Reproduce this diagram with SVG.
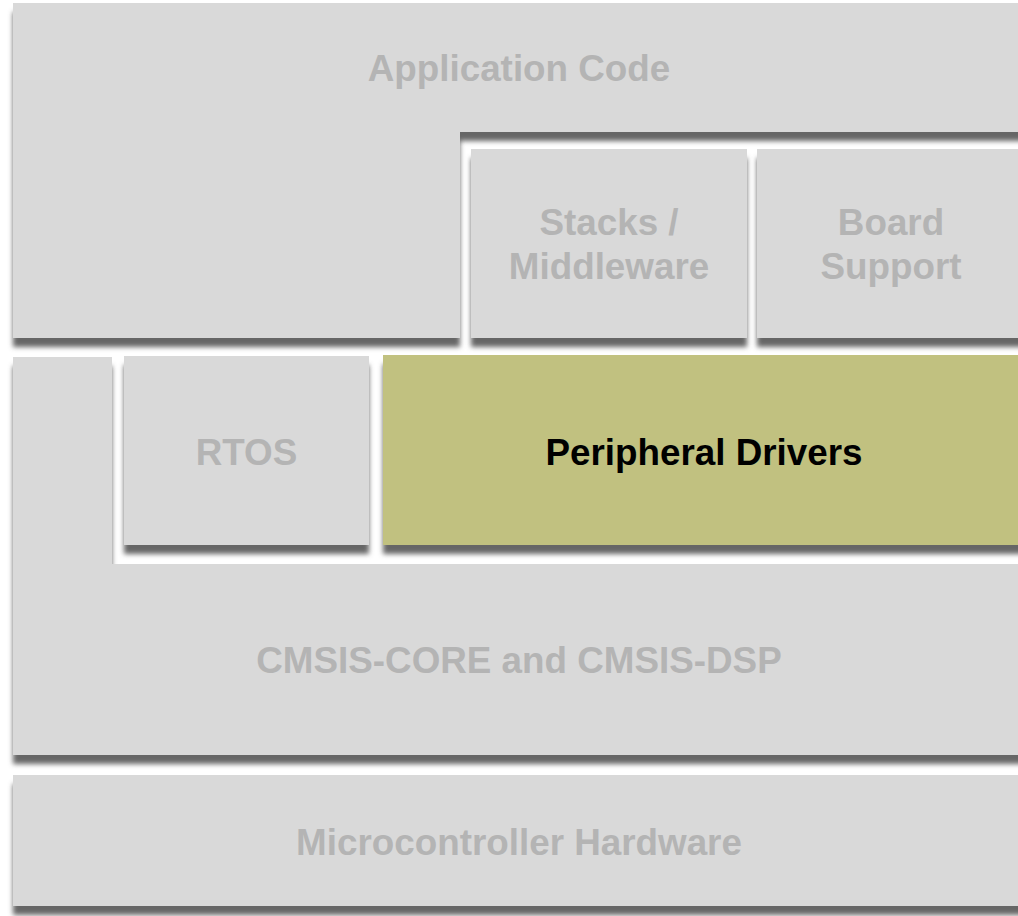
<svg xmlns="http://www.w3.org/2000/svg" width="1018" height="916" viewBox="0 0 1018 916">
  <style>
    .box { fill: #d9d9d9; filter: url(#sh); }
    .olive { fill: #c1c180; filter: url(#sh); }
    .lbl { font-family: "Liberation Sans", Arial, sans-serif; font-weight: bold; font-size: 36.8px; fill: #b4b4b4; text-anchor: middle; }
    .dark { fill: #000000; }
  </style>
  <defs>
    <filter id="sh" x="-5%" y="-10%" width="110%" height="130%">
      <feDropShadow dx="0" dy="9" stdDeviation="2.5" flood-color="#666666" flood-opacity="1"/>
    </filter>
  </defs>
  <rect width="1018" height="916" fill="#ffffff"/>

  <g id="application-code">
    <path class="box" d="M13,3 H1025 V132 H460 V338 H13 Z"/>
    <text class="lbl" x="519" y="81">Application Code</text>
  </g>
  <g id="stacks-middleware">
    <rect class="box" x="471" y="149" width="276" height="189"/>
    <text class="lbl" x="609" y="235">Stacks /</text>
    <text class="lbl" x="609" y="279">Middleware</text>
  </g>
  <g id="board-support">
    <rect class="box" x="757" y="149" width="268" height="189"/>
    <text class="lbl" x="891" y="235">Board</text>
    <text class="lbl" x="891" y="279">Support</text>
  </g>
  <g id="cmsis">
    <path class="box" d="M13,357 H112 V564 H1025 V755 H13 Z"/>
    <text class="lbl" x="519" y="673">CMSIS-CORE and CMSIS-DSP</text>
  </g>
  <g id="rtos">
    <rect class="box" x="124" y="356" width="245" height="189"/>
    <text class="lbl" x="246.5" y="465">RTOS</text>
  </g>
  <g id="peripheral-drivers">
    <rect class="olive" x="383" y="355" width="642" height="190"/>
    <text class="lbl dark" x="704" y="465">Peripheral Drivers</text>
  </g>
  <g id="microcontroller-hardware">
    <rect class="box" x="13" y="775" width="1012" height="131"/>
    <text class="lbl" x="519" y="855">Microcontroller Hardware</text>
  </g>
  <g id="connectors"></g>
</svg>
